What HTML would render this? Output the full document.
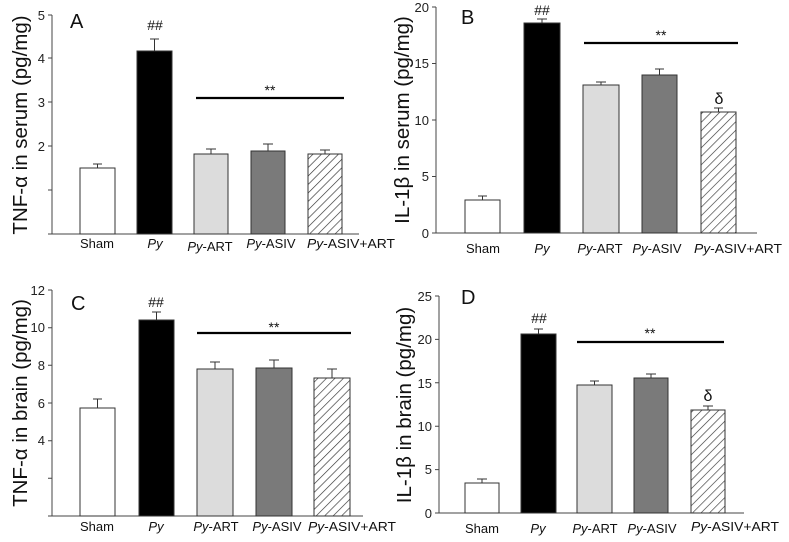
<!DOCTYPE html>
<html><head><meta charset="utf-8"><style>
html,body{margin:0;padding:0;background:#fff;}
svg{display:block;font-family:"Liberation Sans",Arial,sans-serif;}
</style></head><body>
<svg width="789" height="542" viewBox="0 0 789 542" xmlns="http://www.w3.org/2000/svg">
<defs>
<pattern id="h" patternUnits="userSpaceOnUse" width="6" height="6" patternTransform="rotate(45)">
<rect width="6" height="6" fill="#fff"/><line x1="0" y1="0" x2="0" y2="6" stroke="#333" stroke-width="1.3"/>
</pattern>
</defs>
<g stroke="#444" fill="none" stroke-width="1">
<path d="M52 15V234H359"/>
<path d="M48 15H52M48 58H52M48 102H52M48 146H52M48 190H52M48 234H52"/>
<path d="M436 7V233H757"/>
<path d="M432 7H436M432 63.5H436M432 120H436M432 176.5H436M432 233H436"/>
<path d="M52 290V516H363"/>
<path d="M48 290H52M48 327.7H52M48 365.3H52M48 403H52M48 440.7H52M48 478.3H52M48 516H52"/>
<path d="M439 296V513H744"/>
<path d="M435 296H439M435 339.4H439M435 382.8H439M435 426.2H439M435 469.6H439M435 513H439"/>
</g>
<g font-size="13" fill="#222" text-anchor="end">
<text x="45" y="20">5</text><text x="45" y="63">4</text><text x="45" y="107">3</text><text x="45" y="151">2</text>
<text x="429" y="12">20</text><text x="429" y="68">15</text><text x="429" y="125">10</text><text x="429" y="181">5</text><text x="429" y="238">0</text>
<text x="45" y="295">12</text><text x="45" y="332">10</text><text x="45" y="370">8</text><text x="45" y="408">6</text><text x="45" y="445">4</text>
<text x="432" y="301">25</text><text x="432" y="344">20</text><text x="432" y="388">15</text><text x="432" y="431">10</text><text x="432" y="474">5</text><text x="432" y="518">0</text>
</g>
<g font-size="20.5" fill="#111" text-anchor="middle">
<text transform="translate(27,125) rotate(-90)">TNF-α in serum (pg/mg)</text>
<text transform="translate(409,120) rotate(-90)">IL-1β in serum (pg/mg)</text>
<text transform="translate(27,403) rotate(-90)">TNF-α in brain (pg/mg)</text>
<text transform="translate(411,405) rotate(-90)">IL-1β in brain (pg/mg)</text>
</g>
<g font-size="20" fill="#111">
<text x="70" y="28">A</text><text x="461" y="24">B</text><text x="71" y="310">C</text><text x="461" y="304">D</text>
</g>
<g stroke="#333" stroke-width="1">
<rect x="80" y="168" width="35" height="66" fill="#fff"/>
<rect x="137" y="51" width="35" height="183" fill="#000"/>
<rect x="194" y="154" width="34" height="80" fill="#dcdcdc"/>
<rect x="251" y="151" width="34" height="83" fill="#7a7a7a"/>
<rect x="308" y="154" width="34" height="80" fill="url(#h)"/>
<path d="M97.5 168V164M93 164H102 M154.5 51V39M150 39H159 M211 154V149M206 149H216 M268 151V144M263 144H273 M325 154V150M320 150H330" fill="none"/>
<rect x="465" y="200" width="35" height="33" fill="#fff"/>
<rect x="524" y="23" width="36" height="210" fill="#000"/>
<rect x="583" y="85" width="36" height="148" fill="#dcdcdc"/>
<rect x="642" y="75" width="35" height="158" fill="#7a7a7a"/>
<rect x="701" y="112" width="35" height="121" fill="url(#h)"/>
<path d="M482.5 200V196M478 196H487 M542 23V19M537 19H547 M601 85V82M596 82H606 M659.5 75V69M655 69H664 M718.5 112V108M714 108H723" fill="none"/>
<rect x="80" y="408" width="35" height="108" fill="#fff"/>
<rect x="139" y="320" width="35" height="196" fill="#000"/>
<rect x="197" y="369" width="36" height="147" fill="#dcdcdc"/>
<rect x="256" y="368" width="36" height="148" fill="#7a7a7a"/>
<rect x="314" y="378" width="36" height="138" fill="url(#h)"/>
<path d="M97.5 408V399M93 399H102 M156.5 320V312M152 312H161 M215 369V362M210 362H220 M274 368V360M269 360H279 M332 378V369M327 369H337" fill="none"/>
<rect x="465" y="483" width="34" height="30" fill="#fff"/>
<rect x="521" y="334" width="35" height="179" fill="#000"/>
<rect x="577" y="385" width="35" height="128" fill="#dcdcdc"/>
<rect x="634" y="378" width="34" height="135" fill="#7a7a7a"/>
<rect x="691" y="410" width="34" height="103" fill="url(#h)"/>
<path d="M482 483V479M477 479H487 M538.5 334V329M534 329H543 M594.5 385V381M590 381H599 M651 378V374M646 374H656 M708 410V406M703 406H713" fill="none"/>
</g>
<g stroke="#000" stroke-width="2.2">
<path d="M196 98H344M584 43H738M197 333H351M577 342H724"/>
</g>
<g font-size="14" fill="#111" text-anchor="middle">
<text x="155" y="30">##</text><text x="270" y="95">**</text>
<text x="542" y="15">##</text><text x="661" y="40">**</text><text x="719" y="104" font-size="16">δ</text>
<text x="156" y="307">##</text><text x="274" y="332">**</text>
<text x="539" y="323">##</text><text x="650" y="338">**</text><text x="708" y="401" font-size="16">δ</text>
</g>
<g font-size="13" fill="#111" text-anchor="middle">
<text x="97" y="248">Sham</text><text x="155" y="248"><tspan font-style="italic">Py</tspan></text>
<text x="210" y="251"><tspan font-style="italic">Py</tspan>-ART</text><text x="271" y="248"><tspan font-style="italic">Py</tspan>-ASIV</text><text x="351" y="248" textLength="88" lengthAdjust="spacingAndGlyphs"><tspan font-style="italic">Py</tspan>-ASIV+ART</text>
<text x="483" y="253">Sham</text><text x="542" y="253"><tspan font-style="italic">Py</tspan></text>
<text x="600" y="253"><tspan font-style="italic">Py</tspan>-ART</text><text x="657" y="253"><tspan font-style="italic">Py</tspan>-ASIV</text><text x="738" y="253" textLength="88" lengthAdjust="spacingAndGlyphs"><tspan font-style="italic">Py</tspan>-ASIV+ART</text>
<text x="97" y="531">Sham</text><text x="156" y="531"><tspan font-style="italic">Py</tspan></text>
<text x="216" y="531"><tspan font-style="italic">Py</tspan>-ART</text><text x="277" y="531"><tspan font-style="italic">Py</tspan>-ASIV</text><text x="352" y="531" textLength="88" lengthAdjust="spacingAndGlyphs"><tspan font-style="italic">Py</tspan>-ASIV+ART</text>
<text x="482" y="533">Sham</text><text x="538" y="533"><tspan font-style="italic">Py</tspan></text>
<text x="595" y="533"><tspan font-style="italic">Py</tspan>-ART</text><text x="652" y="533"><tspan font-style="italic">Py</tspan>-ASIV</text><text x="735" y="531" textLength="88" lengthAdjust="spacingAndGlyphs"><tspan font-style="italic">Py</tspan>-ASIV+ART</text>
</g>
</svg>
</body></html>
